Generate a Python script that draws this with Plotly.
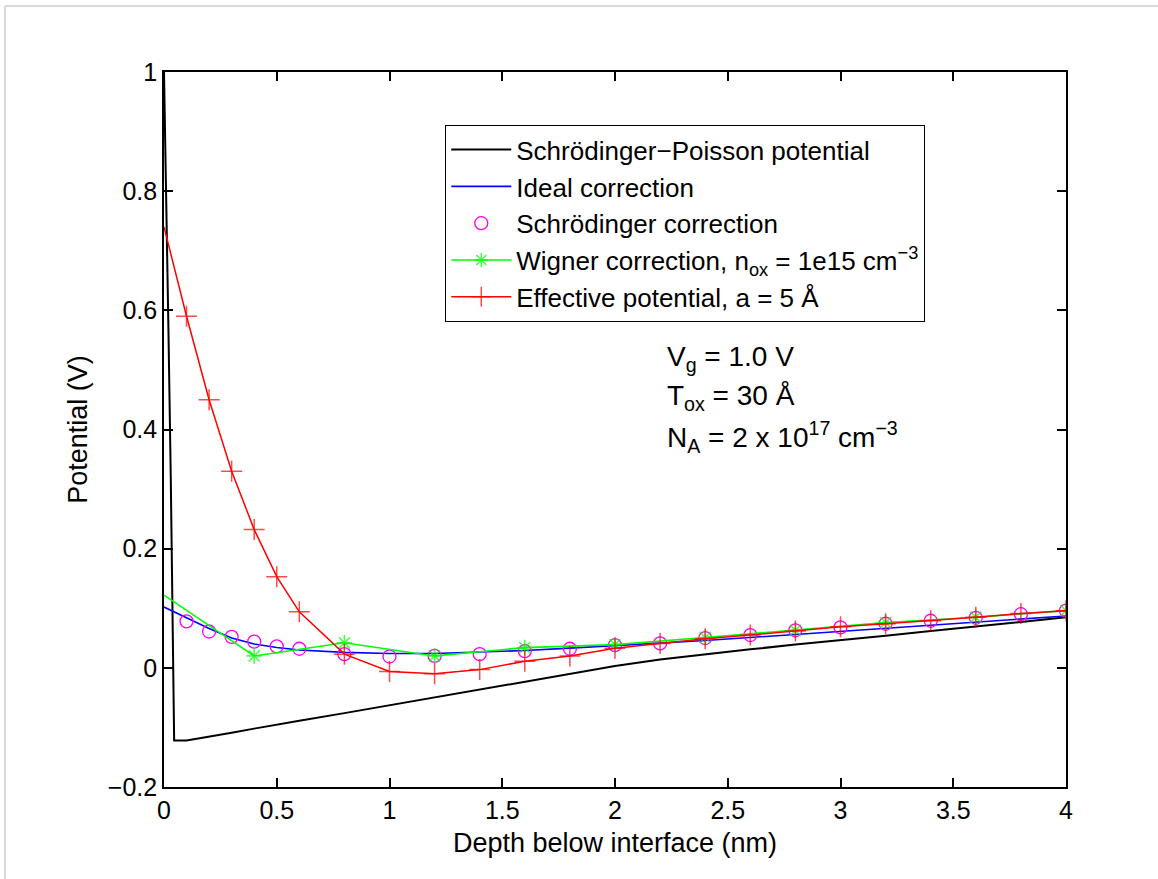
import plotly.graph_objects as go

# ---------------- data ----------------
x_sp = [0, 0.01, 0.02, 0.03, 0.04, 0.045, 0.1, 0.2, 0.3, 0.4, 0.5, 0.6, 0.8, 1.0, 1.2, 1.4,
        1.6, 1.8, 2.0, 2.2, 2.4, 2.6, 2.8, 3.0, 3.2, 3.4, 3.6, 3.8, 4.0]
y_sp = [1.0, 0.80, 0.56, 0.32, 0.04, -0.122, -0.122, -0.116, -0.109, -0.102, -0.096, -0.089,
        -0.076, -0.063, -0.050, -0.036, -0.023, -0.010, 0.003, 0.014, 0.023, 0.031, 0.039,
        0.046, 0.054, 0.062, 0.069, 0.077, 0.085]

x_ideal = [0, 0.1, 0.2, 0.3, 0.4, 0.5, 0.6, 0.8, 1.0, 1.2, 1.4, 1.6, 1.8, 2.0, 2.4, 2.8,
           3.2, 3.6, 4.0]
y_ideal = [0.102, 0.084, 0.066, 0.050, 0.040, 0.034, 0.030, 0.026, 0.024, 0.024, 0.026,
           0.029, 0.033, 0.037, 0.046, 0.056, 0.066, 0.076, 0.087]

x_schr = [0.1, 0.2, 0.3, 0.4, 0.5, 0.6, 0.8, 1.0, 1.2, 1.4, 1.6, 1.8, 2.0, 2.2, 2.4, 2.6,
          2.8, 3.0, 3.2, 3.4, 3.6, 3.8, 4.0]
y_schr = [0.078, 0.061, 0.052, 0.044, 0.036, 0.032, 0.023, 0.019, 0.020, 0.023, 0.028,
          0.032, 0.038, 0.041, 0.050, 0.055, 0.063, 0.068, 0.074, 0.079, 0.084, 0.090, 0.096]

x_wig = [0, 0.4, 0.8, 1.2, 1.6, 2.0, 2.4, 2.8, 3.2, 3.6, 4.0]
y_wig = [0.122, 0.020, 0.042, 0.020, 0.034, 0.039, 0.051, 0.063, 0.076, 0.085, 0.096]

x_eff = [0, 0.1, 0.2, 0.3, 0.4, 0.5, 0.6, 0.8, 1.0, 1.2, 1.4, 1.6, 1.8, 2.0, 2.2, 2.4,
         2.6, 2.8, 3.0, 3.2, 3.4, 3.6, 3.8, 4.0]
y_eff = [0.74, 0.59, 0.45, 0.33, 0.232, 0.153, 0.094, 0.023, -0.006, -0.010, -0.003, 0.011,
         0.020, 0.033, 0.041, 0.049, 0.055, 0.062, 0.069, 0.074, 0.079, 0.085, 0.091, 0.096]

x_tick_vals = [0, 0.5, 1, 1.5, 2, 2.5, 3, 3.5, 4]
x_tick_text = ["0", "0.5", "1", "1.5", "2", "2.5", "3", "3.5", "4"]
y_tick_vals = [-0.2, 0, 0.2, 0.4, 0.6, 0.8, 1]
y_tick_text = ["\u22120.2", "0", "0.2", "0.4", "0.6", "0.8", "1"]

names = ["Schrödinger\u2212Poisson potential",
         "Ideal correction",
         "Schrödinger correction",
         "Wigner correction, n<sub>ox</sub> = 1e15 cm<sup>\u22123</sup>",
         "Effective potential, a = 5 Å"]

info_lines = ["V<sub>g</sub> = 1.0 V",
              "T<sub>ox</sub> = 30 Å",
              "N<sub>A</sub> = 2 x 10<sup>17</sup> cm<sup>\u22123</sup>"]
info_y = [0.520, 0.454, 0.387]

FONT = "Liberation Sans, Arial, Helvetica, sans-serif"


def sizes_hide_first(xs, size):
    # the reference shows no marker at the surface point x = 0
    return [0 if v == 0 else size for v in xs]


fig = go.Figure()
fig.add_trace(go.Scatter(x=x_sp, y=y_sp, mode="lines", name=names[0],
                         line=dict(color="black", width=2)))
fig.add_trace(go.Scatter(x=x_ideal, y=y_ideal, mode="lines", name=names[1],
                         line=dict(color="#0000ff", width=1.6)))
fig.add_trace(go.Scatter(x=x_schr, y=y_schr, mode="markers", name=names[2],
                         marker=dict(symbol="circle-open", size=13, color="#ff00ff",
                                     line=dict(width=1.3, color="#ff00ff"))))
fig.add_trace(go.Scatter(x=x_wig, y=y_wig, mode="lines+markers", name=names[3],
                         line=dict(color="#00ff00", width=1.6),
                         marker=dict(symbol="asterisk", size=sizes_hide_first(x_wig, 13),
                                     color="#00ff00",
                                     line=dict(width=1.6, color="#00ff00"))))
fig.add_trace(go.Scatter(x=x_eff, y=y_eff, mode="lines+markers", name=names[4],
                         line=dict(color="#ff0000", width=1.5),
                         marker=dict(symbol="cross-thin", size=sizes_hide_first(x_eff, 15),
                                     color="#ff0000",
                                     line=dict(width=1.5, color="#ff0000"))))

for txt, yy in zip(info_lines, info_y):
    fig.add_annotation(x=2.222, y=yy, xref="x", yref="y", text=txt, showarrow=False,
                       xanchor="left", yanchor="middle",
                       font=dict(family=FONT, size=28, color="black"))

axis_common = dict(showline=True, linecolor="black", linewidth=1.6, mirror="ticks",
                   ticks="inside", ticklen=9, tickwidth=1.5, tickcolor="black",
                   showgrid=False, zeroline=False,
                   tickfont=dict(family=FONT, size=25, color="black"))

fig.update_layout(
    width=1158, height=879,
    margin=dict(l=164, r=92, t=72, b=92),
    paper_bgcolor="white", plot_bgcolor="white",
    font=dict(family=FONT, size=25, color="black"),
    showlegend=True,
    legend=dict(x=0.3115, y=0.926, xanchor="left", yanchor="top",
                bgcolor="white", bordercolor="black", borderwidth=1.3,
                font=dict(family=FONT, size=26, color="black"),
                itemwidth=60, tracegroupgap=0),
    xaxis=dict(range=[0, 4], tickvals=x_tick_vals, ticktext=x_tick_text,
               title=dict(text="Depth below interface (nm)",
                          font=dict(family=FONT, size=27, color="black"), standoff=10),
               **axis_common),
    yaxis=dict(range=[-0.2, 1], tickvals=y_tick_vals, ticktext=y_tick_text,
               title=dict(text="Potential (V)",
                          font=dict(family=FONT, size=27, color="black"), standoff=12),
               **axis_common),
    shapes=[
        dict(type="line", xref="paper", yref="paper", x0=-0.1763, x1=1.102,
             y0=1.0923, y1=1.0923, line=dict(color="#d9d9d9", width=2)),
        dict(type="line", xref="paper", yref="paper", x0=-0.1763, x1=-0.1763,
             y0=1.0923, y1=-0.1287, line=dict(color="#d9d9d9", width=2)),
    ],
)

fig.write_html("out.html")
